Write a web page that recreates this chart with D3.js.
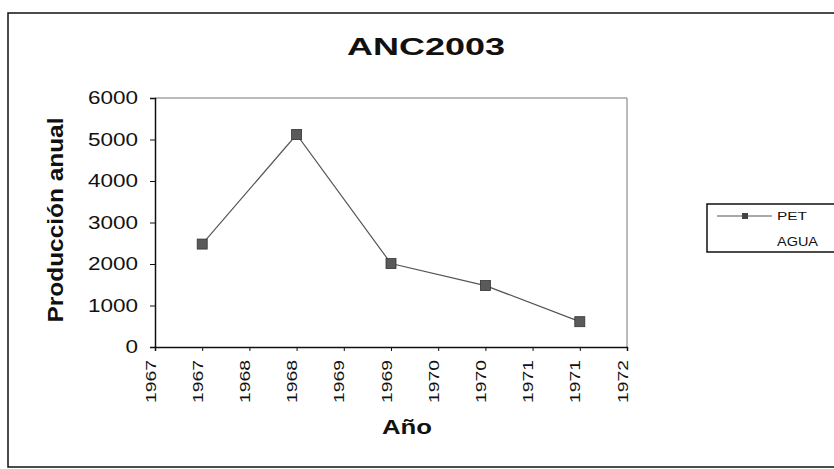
<!DOCTYPE html>
<html><head><meta charset="utf-8">
<script src="https://cdn.jsdelivr.net/npm/d3@7"></script>
<style>body{margin:0;background:#fff}svg{display:block}text{font-family:"Liberation Sans",Arial,sans-serif;fill:#111}</style>
</head><body><svg id="c" width="834" height="469"></svg>
<script>
const title = "ANC2003";
const xLabel = "Año";
const yLabel = "Producción anual";
const seriesName = "PET";
const legendExtra = "AGUA";
const years = [1967.5, 1968.5, 1969.5, 1970.5, 1971.5];
const petValues = [2480, 5120, 2010, 1480, 610];
const xTickValues = [1967, 1967.5, 1968, 1968.5, 1969, 1969.5, 1970, 1970.5, 1971, 1971.5, 1972];
const xTickLabels = ["1967","1967","1968","1968","1969","1969","1970","1970","1971","1971","1972"];
const yTickValues = [0, 1000, 2000, 3000, 4000, 5000, 6000];

const svg = d3.select("#c");
const L = 155, R = 627, T = 98, B = 347;
const x = d3.scaleLinear().domain([1967, 1972]).range([L, R]);
const y = d3.scaleLinear().domain([0, 6000]).range([B, T]);

// outer frame
svg.append("rect").attr("x", 8).attr("y", 13).attr("width", 840).attr("height", 454)
  .attr("fill", "#fff").attr("stroke", "#111").attr("stroke-width", 1.5);

// plot frame top/right
svg.append("path").attr("d", `M${L},${T}H${R}V${B}`).attr("fill", "none")
  .attr("stroke", "#777").attr("stroke-width", 1);

// y axis
const yAxis = svg.append("g").attr("transform", `translate(${L},0)`)
  .call(d3.axisLeft(y).tickValues(yTickValues).tickSize(5).tickPadding(12).tickFormat(d3.format("d")));
yAxis.select(".domain").attr("stroke", "#111").attr("stroke-width", 1.5);
yAxis.selectAll(".tick line").attr("stroke", "#111");
yAxis.selectAll("text").attr("font-size", 18).attr("fill", "#111").style("font-family", "Liberation Sans, Arial")
  .attr("textLength", d => 12.5 * String(d).length).attr("lengthAdjust", "spacingAndGlyphs");

// x axis
const xAxis = svg.append("g").attr("transform", `translate(0,${B})`)
  .call(d3.axisBottom(x).tickValues(xTickValues).tickSize(4).tickFormat((d, i) => xTickLabels[i]));
xAxis.select(".domain").attr("stroke", "#111").attr("stroke-width", 1.5);
xAxis.selectAll(".tick line").attr("stroke", "#111");
xAxis.selectAll("text")
  .attr("font-size", 15).attr("fill", "#111").style("font-family", "Liberation Sans, Arial")
  .attr("text-anchor", "end").attr("dy", null)
  .attr("transform", "translate(0,13) rotate(-90)")
  .attr("x", 0).attr("y", 0)
  .attr("textLength", 43).attr("lengthAdjust", "spacingAndGlyphs");

// line + markers
const pts = years.map((yr, i) => [yr, petValues[i]]);
svg.append("path").datum(pts)
  .attr("d", d3.line().x(d => x(d[0])).y(d => y(d[1])))
  .attr("fill", "none").attr("stroke", "#555").attr("stroke-width", 1.2);
const ms = 10;
svg.selectAll("rect.m").data(pts).join("rect").attr("class", "m")
  .attr("x", d => x(d[0]) - ms / 2).attr("y", d => y(d[1]) - ms / 2)
  .attr("width", ms).attr("height", ms).attr("fill", "#5a5a5a").attr("stroke", "#333").attr("stroke-width", 0.8);

// titles
svg.append("text").attr("x", 426).attr("y", 55).attr("text-anchor", "middle")
  .attr("font-size", 24).attr("font-weight", "bold").attr("textLength", 158).attr("lengthAdjust", "spacingAndGlyphs").text(title);
svg.append("text").attr("x", 407).attr("y", 434).attr("text-anchor", "middle")
  .attr("font-size", 21).attr("font-weight", "bold").attr("textLength", 50).attr("lengthAdjust", "spacingAndGlyphs").text(xLabel);
svg.append("text").attr("transform", "translate(63,220) rotate(-90)").attr("text-anchor", "middle")
  .attr("font-size", 22).attr("font-weight", "bold").attr("textLength", 205).attr("lengthAdjust", "spacingAndGlyphs").text(yLabel);

// legend
const lg = svg.append("g");
lg.append("rect").attr("x", 707).attr("y", 204).attr("width", 140).attr("height", 48)
  .attr("fill", "#fff").attr("stroke", "#111").attr("stroke-width", 1.5);
lg.append("line").attr("x1", 717).attr("x2", 772).attr("y1", 216).attr("y2", 216).attr("stroke", "#555").attr("stroke-width", 1.2);
lg.append("rect").attr("x", 742).attr("y", 213).attr("width", 6).attr("height", 6).attr("fill", "#444");
lg.append("text").attr("x", 777).attr("y", 220).attr("font-size", 11).attr("textLength", 30).attr("lengthAdjust", "spacingAndGlyphs").text(seriesName);
lg.append("text").attr("x", 777).attr("y", 246).attr("font-size", 12).attr("textLength", 41).attr("lengthAdjust", "spacingAndGlyphs").text(legendExtra);
</script></body></html>
